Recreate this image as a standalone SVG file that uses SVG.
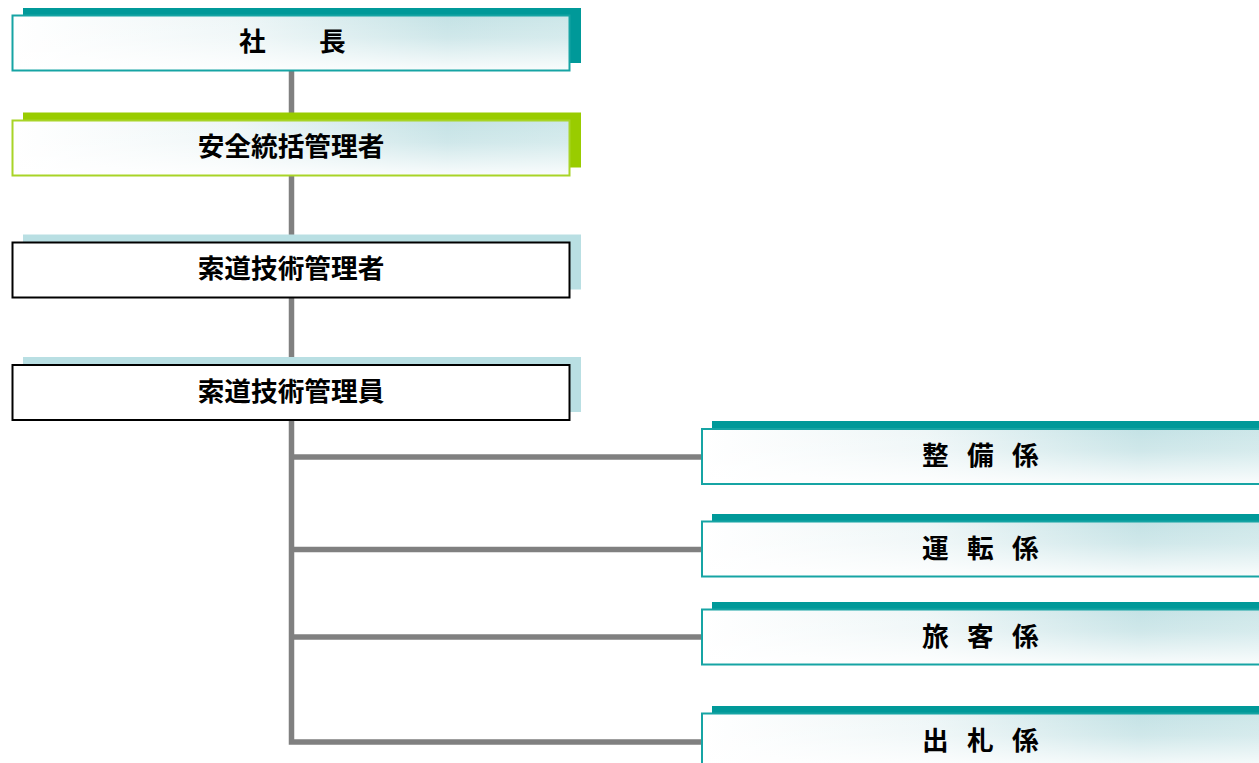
<svg xmlns="http://www.w3.org/2000/svg" width="1259" height="763" viewBox="0 0 1259 763">
<defs>
<linearGradient id="gx" x1="0" y1="0" x2="1" y2="0">
<stop offset="0" stop-color="#ffffff"/>
<stop offset="0.4" stop-color="#eef6f7"/>
<stop offset="0.78" stop-color="#c4e2e5"/>
<stop offset="1" stop-color="#cde7e9"/>
</linearGradient>
<linearGradient id="gy" x1="0" y1="0" x2="0" y2="1">
<stop offset="0" stop-color="#ffffff" stop-opacity="0"/>
<stop offset="0.4" stop-color="#ffffff" stop-opacity="0.2"/>
<stop offset="1" stop-color="#ffffff" stop-opacity="0.9"/>
</linearGradient>
<style>
.conn{fill:none;stroke:#808080;stroke-width:5.5}
.sh-teal{fill:#009999}
.sh-green{fill:#99cc00}
.sh-blue{fill:#b9dfe3}
.fx{fill:url(#gx)}
.fy{fill:url(#gy)}
.b-teal{fill:none;stroke:#16a4a4;stroke-width:2}
.b-green{fill:none;stroke:#a8d427;stroke-width:2}
.b-black{fill:#ffffff;stroke:#000000;stroke-width:2}
.t{font-family:"Noto Sans CJK JP","Noto Sans CJK SC",sans-serif;font-weight:bold;font-size:26.67px;fill:#000000;dominant-baseline:central}
</style>
</defs>
<g id="connectors">
<path class="conn" d="M291.5,70 V120"/>
<path class="conn" d="M291.5,176 V242"/>
<path class="conn" d="M291.5,298 V365"/>
<path class="conn" d="M291.5,420 V742 H702"/>
<path class="conn" d="M291.5,457 H702"/>
<path class="conn" d="M291.5,549.5 H702"/>
<path class="conn" d="M291.5,637 H702"/>
</g>
<g id="n-shacho">
<rect class="sh-teal" x="23" y="8" width="558" height="55"/>
<rect class="fx" x="12.5" y="15.5" width="557" height="55"/>
<rect class="fy" x="12.5" y="15.5" width="557" height="55"/>
<rect class="b-teal" x="12.5" y="15.5" width="557" height="55"/>
<text class="t" x="239" y="39.5">社　　長</text>
</g>
<g id="n-anzen">
<rect class="sh-green" x="23" y="112.5" width="558" height="55"/>
<rect class="fx" x="12.5" y="120.5" width="557" height="55"/>
<rect class="fy" x="12.5" y="120.5" width="557" height="55"/>
<rect class="b-green" x="12.5" y="120.5" width="557" height="55"/>
<text class="t" x="291" y="144.5" text-anchor="middle">安全統括管理者</text>
</g>
<g id="n-gijutsu-sha">
<rect class="sh-blue" x="23" y="234.5" width="558" height="55"/>
<rect class="b-black" x="12.5" y="242.5" width="557" height="55"/>
<text class="t" x="291" y="266.5" text-anchor="middle">索道技術管理者</text>
</g>
<g id="n-gijutsu-in">
<rect class="sh-blue" x="23" y="357" width="558" height="55"/>
<rect class="b-black" x="12.5" y="365" width="557" height="55"/>
<text class="t" x="291" y="389" text-anchor="middle">索道技術管理員</text>
</g>
<g id="n-seibi">
<rect class="sh-teal" x="712" y="421" width="560" height="55"/>
<rect class="fx" x="702" y="429" width="560" height="55"/>
<rect class="fy" x="702" y="429" width="560" height="55"/>
<rect class="b-teal" x="702" y="429" width="560" height="55"/>
<text class="t" x="922 967 1012" y="453.5">整備係</text>
</g>
<g id="n-unten">
<rect class="sh-teal" x="712" y="514" width="560" height="55"/>
<rect class="fx" x="702" y="521.5" width="560" height="55"/>
<rect class="fy" x="702" y="521.5" width="560" height="55"/>
<rect class="b-teal" x="702" y="521.5" width="560" height="55"/>
<text class="t" x="922 967 1012" y="546">運転係</text>
</g>
<g id="n-ryokaku">
<rect class="sh-teal" x="712" y="602" width="560" height="55"/>
<rect class="fx" x="702" y="609.5" width="560" height="55"/>
<rect class="fy" x="702" y="609.5" width="560" height="55"/>
<rect class="b-teal" x="702" y="609.5" width="560" height="55"/>
<text class="t" x="922 967 1012" y="634">旅客係</text>
</g>
<g id="n-sassatsu">
<rect class="sh-teal" x="712" y="706" width="560" height="55"/>
<rect class="fx" x="702" y="713.5" width="560" height="55"/>
<rect class="fy" x="702" y="713.5" width="560" height="55"/>
<rect class="b-teal" x="702" y="713.5" width="560" height="55"/>
<text class="t" x="922 967 1012" y="738">出札係</text>
</g>
</svg>
